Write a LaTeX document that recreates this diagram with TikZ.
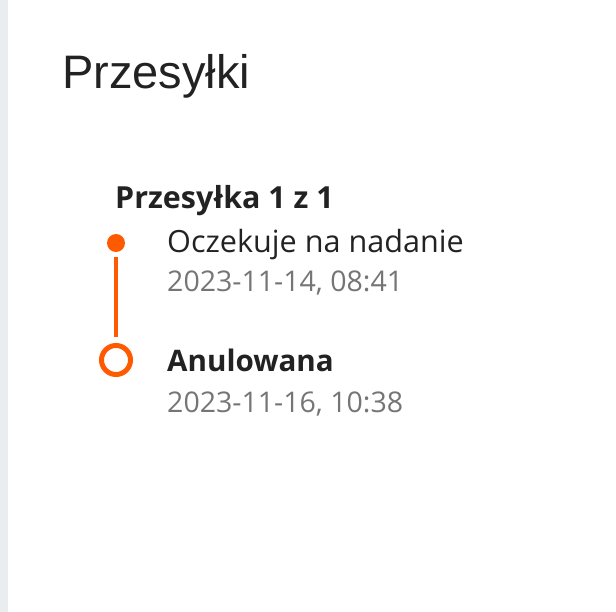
\documentclass[tikz,border=0pt]{standalone}
\usepackage{fontspec}
\setmainfont{Open Sans}
\newfontfamily\titlefont{Liberation Sans}
\definecolor{parcelorange}{RGB}{255,90,0}
\definecolor{stampgray}{RGB}{117,117,117}
\definecolor{inkblack}{RGB}{34,34,34}
\definecolor{sidegray}{RGB}{233,237,240}

\begin{document}
\begin{tikzpicture}[
        x=1pt, y=-1pt,
        every node/.style={inner sep=0pt, anchor=base west, text=inkblack},
        heading/.style={font=\titlefont\fontsize{47}{56}\selectfont},
        parcel/.style={font=\bfseries\fontsize{30.4}{36}\selectfont},
        status/.style={font=\fontsize{30.6}{36}\selectfont},
        stamp/.style={font=\fontsize{28.5}{34}\selectfont, text=stampgray},
        track/.style={draw=parcelorange, line width=4pt}
    ]
    \useasboundingbox (0,0) rectangle (616,612);
    \fill[sidegray] (0,0) rectangle (8,612);

    \node[heading] (title) at (62,89) {Przesyłki};
    \node[parcel] (parcel) at (115,209) {Przesyłka 1 z 1};

    % first step
    \node[circle, fill=parcelorange, minimum size=18pt, anchor=center] (dotA) at (116,243) {};
    \node[status] (statA) at (167,253) {Oczekuje na nadanie};
    \node[stamp] (timeA) at (167,292) {2023-11-14, 08:41};

    % second step
    \node[circle, draw=parcelorange, line width=5pt, minimum size=29pt, anchor=center] (dotB) at (116,360) {};
    \node[status, font=\bfseries\fontsize{29.6}{35}\selectfont] (statB) at (167,372) {Anulowana};
    \node[stamp] (timeB) at (167,412) {2023-11-16, 10:38};

    \draw[track, shorten <=5pt, shorten >=6pt] (dotA) -- (dotB);
\end{tikzpicture}
\end{document}
